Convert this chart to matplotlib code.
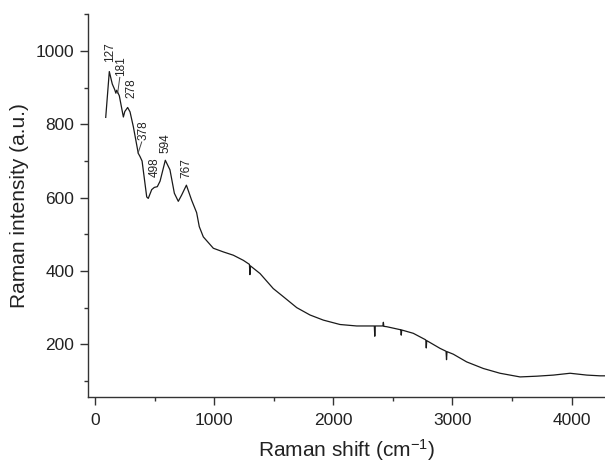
import matplotlib
matplotlib.use("Agg")
import matplotlib.pyplot as plt
from matplotlib.ticker import MultipleLocator

# Raman spectrum, values
shift = [90, 120, 145, 165, 175, 182, 204, 238, 250, 274, 294, 322, 363,
         378, 395, 434, 447, 476, 498, 523, 546, 590, 629, 666, 699, 727,
         767, 811, 853, 875, 909, 993, 1077, 1161, 1245, 1296, 1300, 1304,
         1385, 1496, 1580, 1693, 1804, 1916, 2056, 2196, 2336, 2344, 2348,
         2352, 2416, 2420, 2424, 2448, 2560, 2566, 2570, 2574, 2671, 2776,
         2780, 2784, 2895, 2946, 2950, 2954, 3007, 3119, 3259, 3399, 3567,
         3707, 3847, 3987, 4127, 4238, 4290]
intensity = [819, 944, 910, 895, 885, 893, 878, 820, 835, 846, 834, 793, 721,
             712, 700, 602, 598, 622, 628, 630, 645, 702, 676, 612, 590, 607,
             634, 593, 559, 521, 493, 462, 452, 443, 429, 418, 390, 414,
             393, 352, 330, 300, 280, 266, 254, 250, 250, 250, 222,
             250, 250, 260, 249, 248, 240, 240, 225, 239, 230, 212,
             190, 210, 189, 181, 158, 180, 173, 152, 134, 121, 111,
             113, 116, 121, 116, 114, 114]

peak_labels = ["127", "181", "278", "378", "498", "594", "767"]


def main():
    plt.rcParams["font.family"] = ["Liberation Sans", "DejaVu Sans"]
    plt.rcParams["mathtext.fontset"] = "custom"
    plt.rcParams["mathtext.rm"] = "Liberation Sans"
    plt.rcParams["mathtext.it"] = "Liberation Sans"

    fig = plt.figure(figsize=(6.05, 4.62), dpi=100)
    ax = fig.add_axes([0.146, 0.1413, 0.854, 0.8284])

    ax.plot(shift, intensity, color="#1a1a1a", lw=0.9)

    # label positions (x centre, bottom y) and leader lines
    label_pos = [(123, 970), (220, 932), (304, 871), (410, 757),
                 (497, 657), (590, 723), (769, 653)]
    for text, (lx, ly) in zip(peak_labels, label_pos):
        ax.text(lx, ly, text, rotation=90, ha="center", va="bottom",
                fontsize=8.5, color="#222222")
    ax.plot([190, 208], [885, 928], color="#444444", lw=0.7)
    ax.plot([362, 392], [722, 752], color="#444444", lw=0.7)

    ax.set_xlim(-56, 4280)
    ax.set_ylim(57, 1101)
    ax.xaxis.set_major_locator(MultipleLocator(1000))
    ax.xaxis.set_minor_locator(MultipleLocator(500))
    ax.yaxis.set_major_locator(MultipleLocator(200))
    ax.yaxis.set_minor_locator(MultipleLocator(100))

    for side in ("top", "right"):
        ax.spines[side].set_visible(False)
    for side in ("left", "bottom"):
        ax.spines[side].set_color("#333333")
        ax.spines[side].set_linewidth(1.0)

    ax.tick_params(which="major", direction="out", length=6, width=1.0,
                   color="#333333", labelsize=12.5, labelcolor="#222222")
    ax.tick_params(which="minor", direction="out", length=3, width=1.0,
                   color="#333333")
    ax.tick_params(axis="y", pad=4)
    ax.tick_params(axis="x", pad=6)

    ax.set_xlabel("Raman shift (cm$^{-1}$)", fontsize=15, color="#222222",
                  labelpad=6)
    ax.set_ylabel("Raman intensity (a.u.)", fontsize=15, color="#222222",
                  labelpad=5)

    fig.savefig("out.png", dpi=100)


if __name__ == "__main__":
    main()
